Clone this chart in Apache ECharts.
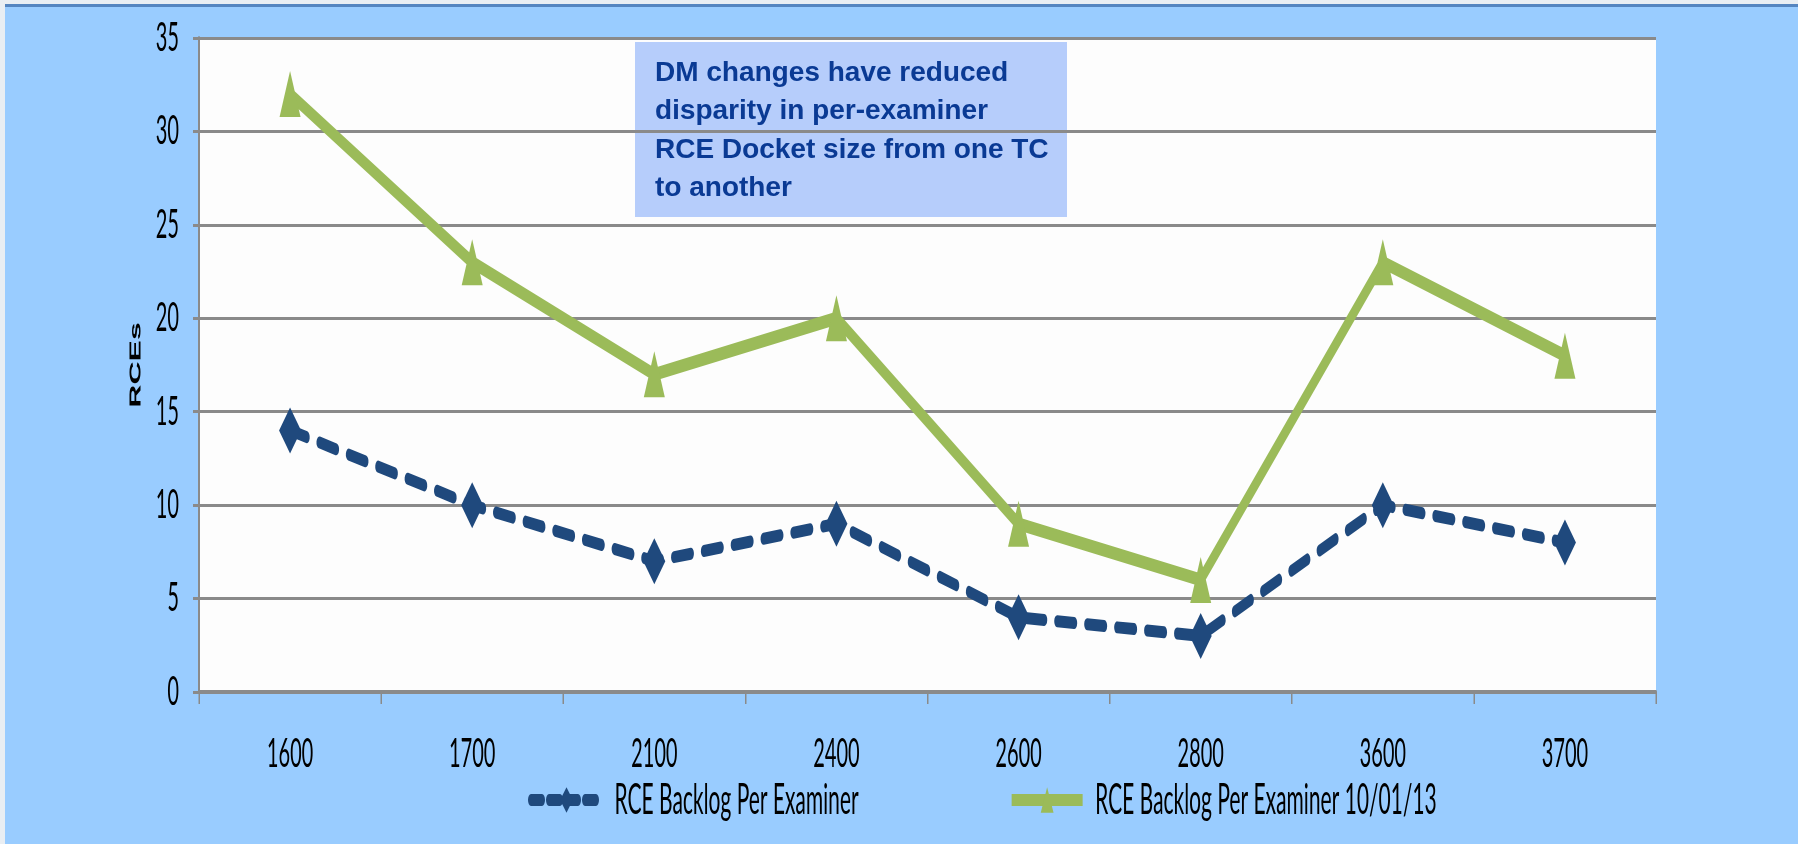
<!DOCTYPE html>
<html>
<head>
<meta charset="utf-8">
<title>RCE Backlog Per Examiner</title>
<script src="https://cdn.jsdelivr.net/npm/echarts@6/dist/echarts.min.js"></script>
<style>
    html, body {
        margin: 0;
        padding: 0;
        width: 1798px;
        height: 844px;
        overflow: hidden;
        background: #e9eef3;
    }
    /* the original slide chart is squeezed sideways, so draw it twice as wide and squash it */
    .chart {
        width: 3596px;
        height: 844px;
        transform: scaleX(0.5);
        transform-origin: 0 0;
    }
</style>
</head>
<body>
<div class="chart"></div>
<script>
// data
var categories = ['1600', '1700', '2100', '2400', '2600', '2800', '3600', '3700'];
var backlogNow = [14, 10, 7, 9, 4, 3, 10, 8];
var backlog100113 = [32, 23, 17, 20, 9, 6, 23, 18];
var seriesNames = ['RCE Backlog Per Examiner', 'RCE Backlog Per Examiner 10/01/13'];
var noteLines = [
    'DM changes have reduced',
    'disparity in per-examiner',
    'RCE Docket size from one TC',
    'to another'
];

(function () {
    var myChart = echarts.init(document.querySelector('.chart'));
    var axisGray = '#8a8a8a';
    var labelFont = 'Lato, "Liberation Sans", sans-serif';
    var blue = '#1f497d';
    var green = '#9bbb59';
    // dashed blue line, round caps
    var blueDash = [34, 26];

    var option = {
        backgroundColor: '#e9eef3',
        animation: false,
        color: [blue, green],
        grid: {
            left: 398,
            right: 284,
            top: 38,
            bottom: 152,
            show: true,
            backgroundColor: '#fdfdfd',
            borderWidth: 0
        },
        legend: {
            left: 1056,
            top: 779,
            padding: 0,
            itemWidth: 142,
            itemHeight: 32,
            itemGap: 300,
            textStyle: {
                color: '#000',
                fontFamily: labelFont,
                fontSize: 42,
                padding: [0, 0, 0, 20]
            },
            data: [
                {
                    name: seriesNames[0],
                    lineStyle: { color: blue, width: 12, type: [22, 14], cap: 'round' }
                },
                {
                    name: seriesNames[1],
                    lineStyle: { color: green, width: 12 }
                }
            ]
        },
        xAxis: {
            type: 'category',
            data: categories,
            boundaryGap: true,
            axisLine: {
                lineStyle: { color: axisGray, width: 4 }
            },
            axisTick: {
                show: true,
                length: 12,
                lineStyle: { color: axisGray, width: 3 }
            },
            axisLabel: {
                color: '#000',
                fontFamily: labelFont,
                fontSize: 40,
                margin: 42
            }
        },
        yAxis: {
            type: 'value',
            min: 0,
            max: 35,
            interval: 5,
            name: 'RCEs',
            nameLocation: 'middle',
            nameRotate: 90,
            nameGap: 110,
            nameTextStyle: {
                color: '#000',
                fontFamily: '"Liberation Sans Narrow", "Liberation Sans", sans-serif',
                fontWeight: 'bold',
                fontSize: 32
            },
            axisLine: {
                show: true,
                lineStyle: { color: axisGray, width: 4 }
            },
            axisTick: {
                show: true,
                length: 12,
                lineStyle: { color: axisGray, width: 3 }
            },
            axisLabel: {
                color: '#000',
                fontFamily: labelFont,
                fontSize: 40,
                margin: 40
            },
            splitLine: {
                lineStyle: { color: axisGray, width: 3 }
            }
        },
        series: [
            {
                name: seriesNames[0],
                type: 'line',
                data: backlogNow,
                symbol: 'diamond',
                symbolSize: [44, 46],
                itemStyle: { color: blue },
                lineStyle: {
                    color: blue,
                    width: 12,
                    type: blueDash,
                    cap: 'round'
                },
                z: 3
            },
            {
                name: seriesNames[1],
                type: 'line',
                data: backlog100113,
                symbol: 'triangle',
                symbolSize: [42, 46],
                itemStyle: { color: green },
                lineStyle: {
                    color: green,
                    width: 13
                },
                z: 4
            }
        ],
        graphic: [
            // blue slide panel behind the chart
            {
                type: 'rect',
                z: -10,
                silent: true,
                shape: { x: 10, y: 5, width: 3586, height: 839 },
                style: { fill: '#99ccff' }
            },
            {
                type: 'rect',
                z: -9,
                silent: true,
                shape: { x: 10, y: 4, width: 3586, height: 3 },
                style: { fill: '#5585c0' }
            },
            // note box, scaled back up so its text is not squashed
            {
                type: 'group',
                x: 1270,
                y: 42,
                scaleX: 2,
                z: 100,
                children: [
                    {
                        type: 'rect',
                        shape: { x: 0, y: 0, width: 432, height: 175 },
                        style: { fill: '#b6cdfb' }
                    },
                    {
                        type: 'text',
                        x: 20,
                        y: 12,
                        style: {
                            text: noteLines.join('\n'),
                            fill: '#0a3a94',
                            font: 'bold 28px "Liberation Sans", sans-serif',
                            lineHeight: 38.5
                        }
                    }
                ]
            }
        ]
    };

    myChart.setOption(option);
})();
</script>
</body>
</html>
